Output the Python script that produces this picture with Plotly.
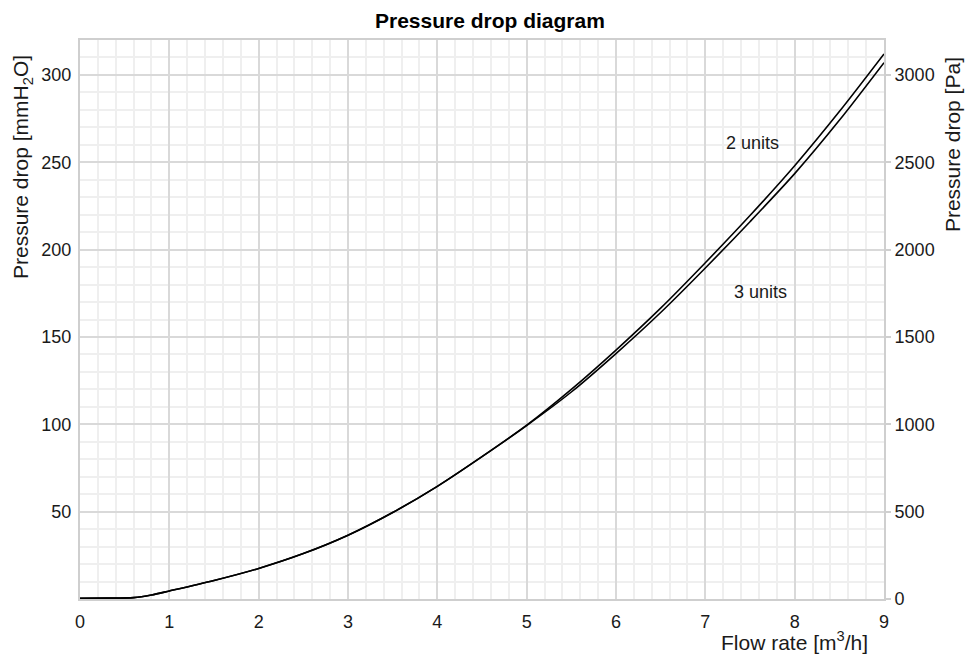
import plotly.graph_objects as go

# Data
flow = [0, 0.3, 0.6, 0.8, 1, 1.5, 2, 2.5, 3, 3.5, 4, 4.5, 5, 5.5, 6, 6.5, 7, 7.5, 8, 8.5, 9]
units2 = [0.4, 0.5, 0.8, 2.3, 4.6, 10.6, 17.5, 26, 36.5, 49.5, 64.5, 81.5, 99.5, 120, 142.5, 166.5, 192.5, 219.5, 248, 279, 312]
units3 = [0.4, 0.5, 0.8, 2.3, 4.6, 10.6, 17.5, 26, 36.5, 49.5, 64.5, 81.5, 99.3, 118.5, 140.5, 164, 189.5, 216, 243.5, 274, 307]

x_ticks = [0, 1, 2, 3, 4, 5, 6, 7, 8, 9]
left_ticks = [50, 100, 150, 200, 250, 300]
right_ticks = [0, 500, 1000, 1500, 2000, 2500, 3000]

series_labels = ["2 units", "3 units"]
label_pos = [(7.53, 261), (7.62, 176)]

FONT = "Liberation Sans, Arial, sans-serif"
TXT = "#1a1a1a"
MAJOR = "#d9d9d9"
MINOR = "#efefef"

fig = go.Figure()
for name, ys in zip(series_labels, [units2, units3]):
    fig.add_trace(go.Scatter(x=flow, y=ys, mode="lines", name=name,
                             line=dict(color="#000000", width=1.6, shape="spline", smoothing=0.8),
                             showlegend=False, hoverinfo="x+y"))

# invisible companion trace so the Pa axis is drawn
fig.add_trace(go.Scatter(x=flow, y=[v * 10 for v in units2], yaxis="y2", mode="lines",
                         line=dict(width=0), opacity=0, showlegend=False, hoverinfo="skip"))

for (lx, ly), txt in zip(label_pos, series_labels):
    fig.add_annotation(x=lx, y=ly, xref="x", yref="y", text=txt, showarrow=False,
                       font=dict(family=FONT, size=18, color=TXT),
                       xanchor="center", yanchor="middle")

# Axis titles
fig.add_annotation(x=-0.072, y=0.773, xref="paper", yref="paper",
                   text="Pressure drop [mmH<sub>2</sub>O]", textangle=-90, showarrow=False,
                   font=dict(family=FONT, size=21, color=TXT), xanchor="center", yanchor="middle")
fig.add_annotation(x=1.0846, y=0.812, xref="paper", yref="paper",
                   text="Pressure drop [Pa]", textangle=-90, showarrow=False,
                   font=dict(family=FONT, size=21, color=TXT), xanchor="center", yanchor="middle")
fig.add_annotation(x=0.9826, y=-0.075, xref="paper", yref="paper",
                   text="Flow rate [m<sup>3</sup>/h]", showarrow=False,
                   font=dict(family=FONT, size=21, color=TXT), xanchor="right", yanchor="middle")

fig.update_layout(
    width=976, height=654,
    margin=dict(l=80, r=92, t=40, b=55),
    paper_bgcolor="white", plot_bgcolor="white",
    title=dict(text="<b>Pressure drop diagram</b>", x=0.502, xref="container", xanchor="center",
               y=1 - 21 / 654, yref="container", yanchor="middle",
               font=dict(family=FONT, size=21, color="#000000")),
    xaxis=dict(range=[0, 9], tickvals=x_ticks, showgrid=True, gridcolor=MAJOR, gridwidth=2,
               minor=dict(dtick=0.2, tick0=0, showgrid=True, gridcolor=MINOR, gridwidth=2),
               showline=True, linecolor="#cfcfcf", linewidth=2, mirror=True,
               ticks="outside", ticklen=5, tickcolor="rgba(0,0,0,0)",
               tickfont=dict(family=FONT, size=18, color=TXT), zeroline=False, fixedrange=True),
    yaxis=dict(range=[0, 320], tickvals=left_ticks, showgrid=True, gridcolor=MAJOR, gridwidth=2,
               minor=dict(dtick=10, tick0=0, showgrid=True, gridcolor=MINOR, gridwidth=2),
               showline=True, linecolor="#cfcfcf", linewidth=2, mirror=True,
               ticks="outside", ticklen=3, tickcolor="rgba(0,0,0,0)",
               tickfont=dict(family=FONT, size=18, color=TXT), zeroline=False, fixedrange=True),
    yaxis2=dict(range=[0, 3200], tickvals=right_ticks, overlaying="y", side="right",
                showgrid=False, showline=False, zeroline=False,
                ticks="outside", ticklen=6, tickwidth=2, tickcolor="#cfcfcf",
                tickfont=dict(family=FONT, size=18, color=TXT), fixedrange=True),
)

fig.write_html("out.html", config={"displayModeBar": False},
               post_script="document.body.style.margin='0';document.body.style.padding='0';")
